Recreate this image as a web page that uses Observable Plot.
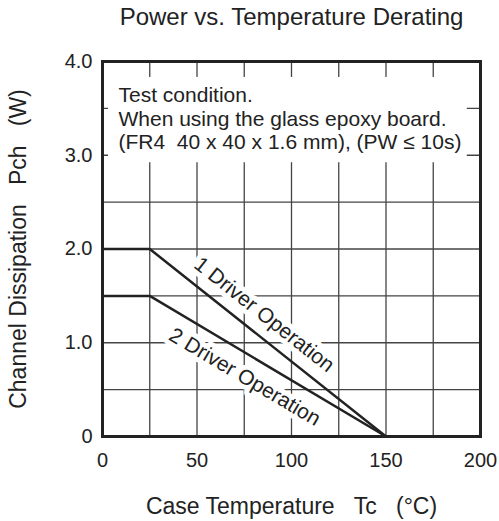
<!DOCTYPE html>
<html>
<head>
<meta charset="utf-8">
<script src="https://cdn.jsdelivr.net/npm/d3@7"></script>
<script src="https://cdn.jsdelivr.net/npm/@observablehq/plot@0.6"></script>
<style>
  html, body { margin: 0; padding: 0; background: #fff; }
  svg { display: block; }
</style>
</head>
<body>
<div id="chart"></div>
<script>
// ---- data ----
const titleText = "Power vs. Temperature Derating";
const xLabel = "Case Temperature\u00a0\u00a0\u00a0Tc\u00a0\u00a0\u00a0(°C)";
const yLabel = "Channel Dissipation\u00a0\u00a0\u00a0Pch\u00a0\u00a0\u00a0(W)";
const noteLines = ["Test condition.", "When using the glass epoxy board.", "(FR4\u00a0\u00a040 x 40 x 1.6 mm), (PW ≤ 10s)"];

const seriesNames = ["1 Driver Operation", "2 Driver Operation"];
const temps = [0, 25, 150];
const power1 = [2.0, 2.0, 0];
const power2 = [1.5, 1.5, 0];

const xTicks = [0, 50, 100, 150, 200];
const yTicks = [0, 1, 2, 3, 4];
const xGrid = [25, 50, 75, 100, 125, 150, 175];
const yGrid = [0.5, 1, 1.5, 2, 2.5, 3, 3.5];

// label anchor points (data units) and angles
const labelX = [85.6, 75.3];
const labelY = [1.30, 0.635];
const labelAngle = [38.3, 30.6];

// ---- build tables ----
const rows = [];
temps.forEach((t, i) => rows.push({series: seriesNames[0], t, p: power1[i]}));
temps.forEach((t, i) => rows.push({series: seriesNames[1], t, p: power2[i]}));
const labels = seriesNames.map((s, i) => ({s, x: labelX[i], y: labelY[i], a: labelAngle[i]}));

const ink = "#222";
const chart = Plot.plot({
  width: 499,
  height: 521,
  marginLeft: 102,
  marginRight: 19,
  marginTop: 61,
  marginBottom: 85,
  style: {fontFamily: "'Liberation Sans', Arial, sans-serif", fontSize: "20px", color: ink, background: "#fff"},
  x: {domain: [0, 200], ticks: xTicks, tickSize: 0, tickPadding: 16, label: null},
  y: {domain: [0, 4], ticks: yTicks, tickSize: 0, tickPadding: 10, label: null,
      tickFormat: d => d === 0 ? "0" : d.toFixed(1)},
  marks: [
    Plot.ruleX(xGrid, {stroke: "#444", strokeWidth: 1.3}),
    Plot.ruleY(yGrid, {stroke: "#444", strokeWidth: 1.3}),
    Plot.rect([noteLines], {x1: 3.2, x2: 193, y1: 2.92, y2: 3.83, fill: "white"}),
    Plot.text(labels, {x: "x", y: "y", text: "s", rotate: d => d.a, fontSize: 21, fill: ink,
      stroke: "white", strokeWidth: 10, strokeLinejoin: "round", textAnchor: "middle", lineAnchor: "middle"}),
    Plot.line(rows, {x: "t", y: "p", z: "series", stroke: ink, strokeWidth: 2.5}),
    Plot.frame({stroke: ink, strokeWidth: 3}),
    Plot.text([noteLines.join("\n")], {frameAnchor: "top-left", dx: 16, dy: 24, textAnchor: "start",
      lineAnchor: "top", lineHeight: 1.12, fontSize: 21, fill: ink}),
    Plot.text([titleText], {frameAnchor: "top", dy: -44.5, fontSize: 24, fill: ink, lineAnchor: "middle"}),
    Plot.text([xLabel], {frameAnchor: "bottom", dy: 70, fontSize: 23, fill: ink, lineAnchor: "middle", textAnchor: "middle"}),
    Plot.text([yLabel], {frameAnchor: "left", dx: -83.5, rotate: -90, fontSize: 23, fill: ink, lineAnchor: "middle", textAnchor: "middle"})
  ]
});
document.getElementById("chart").appendChild(chart);
</script>
</body>
</html>
